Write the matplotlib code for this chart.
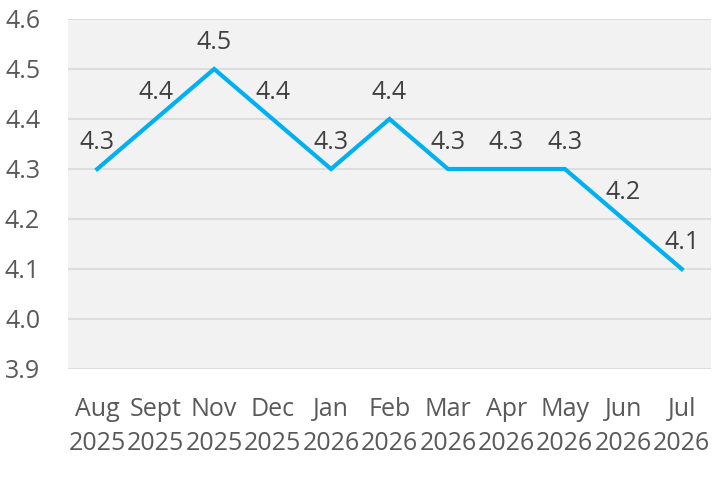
import matplotlib
matplotlib.use("Agg")
import matplotlib.pyplot as plt

months = ["Aug", "Sept", "Nov", "Dec", "Jan", "Feb", "Mar", "Apr", "May", "Jun", "Jul"]
years = ["2025", "2025", "2025", "2025", "2026", "2026", "2026", "2026", "2026", "2026", "2026"]
values = [4.3, 4.4, 4.5, 4.4, 4.3, 4.4, 4.3, 4.3, 4.3, 4.2, 4.1]
yticks = [3.9, 4.0, 4.1, 4.2, 4.3, 4.4, 4.5, 4.6]

plt.rcParams['font.family'] = ['Open Sans', 'DejaVu Sans']

fig = plt.figure(figsize=(7.2, 4.93), dpi=100)
ax = fig.add_axes([68/720, 1-369/493, (711-68)/720, (369-19)/493])
ax.set_facecolor('#F2F2F2')
x = list(range(len(months)))
ax.plot(x, values, color='#00B0F0', lw=3.0, solid_joinstyle='miter', zorder=3)
for xi, v in zip(x, values):
    ax.annotate(f"{v:.1f}", (xi, v), xytext=(0, 10), textcoords='offset points',
                ha='center', va='bottom', fontsize=18, color='#404040', zorder=4)
ax.set_xlim(-0.5, len(months) - 0.5)
ax.set_ylim(3.9, 4.6)
ax.set_yticks(yticks)
ax.set_yticklabels([f"{t:.1f}" for t in yticks])
ax.set_xticks(x)
ax.set_xticklabels([f"{m}\n{y}" for m, y in zip(months, years)], linespacing=1.5)
ax.tick_params(axis='both', length=0, labelsize=18, colors='#595959')
ax.tick_params(axis='y', pad=20)
ax.tick_params(axis='x', pad=20)
ax.grid(axis='y', color='#D9D9D9', lw=1.2)
ax.set_axisbelow(True)
for s in ax.spines.values():
    s.set_visible(False)
fig.savefig("out.png", dpi=100, facecolor='white')
